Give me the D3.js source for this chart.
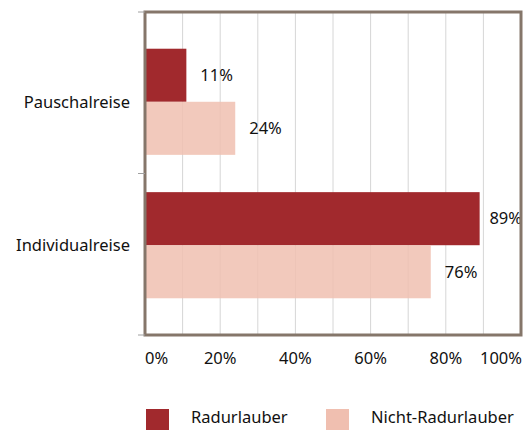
<!DOCTYPE html>
<html>
<head>
<meta charset="utf-8">
<script src="https://cdn.jsdelivr.net/npm/d3@7"></script>
<style>
  body { margin: 0; background: #fff; }
  text { font-family: "Noto Sans", sans-serif; fill: #111; font-size: 16.5px; }
</style>
</head>
<body>
<div id="chart"></div>
<script>
// Daten
var kategorien = ["Pauschalreise", "Individualreise"];
var serien = ["Radurlauber", "Nicht-Radurlauber"];
var radurlauber = [11, 89];
var nichtRadurlauber = [24, 76];
var xTicks = [0, 20, 40, 60, 80, 100];
var farben = ["#a1292d", "#f0bfb0"];

var width = 530, height = 430;
var plotLeft = 145, plotRight = 521, plotTop = 12, plotBottom = 335;

var svg = d3.select("#chart").append("svg")
  .attr("width", width)
  .attr("height", height);

var x = d3.scaleLinear().domain([0, 100]).range([plotLeft, plotRight]);

var y = d3.scaleBand()
  .domain(kategorien)
  .range([plotTop, plotBottom])
  .paddingInner(0.26)
  .paddingOuter(0.256);

var ySub = d3.scaleBand()
  .domain(serien)
  .range([0, y.bandwidth()]);

// Gitterlinien alle 10%
svg.append("g")
  .selectAll("line")
  .data(d3.range(10, 100, 10))
  .enter().append("line")
  .attr("x1", function(d) { return x(d); })
  .attr("x2", function(d) { return x(d); })
  .attr("y1", plotTop)
  .attr("y2", plotBottom)
  .attr("stroke", "#d6d6d6")
  .attr("stroke-width", 1);

var rows = kategorien.map(function(k, i) {
  return [
    { kat: k, serie: serien[0], wert: radurlauber[i] },
    { kat: k, serie: serien[1], wert: nichtRadurlauber[i] }
  ];
});

var g = svg.selectAll(".gruppe")
  .data(rows)
  .enter().append("g")
  .attr("class", "gruppe")
  .attr("transform", function(d) { return "translate(0," + y(d[0].kat) + ")"; });

g.selectAll("rect")
  .data(function(d) { return d; })
  .enter().append("rect")
  .attr("x", x(0))
  .attr("y", function(d) { return ySub(d.serie); })
  .attr("width", function(d) { return x(d.wert) - x(0); })
  .attr("height", ySub.bandwidth())
  .attr("fill", function(d, i) { return farben[i]; })
  .attr("fill-opacity", function(d, i) { return i == 1 ? 0.85 : 1; });

g.selectAll("text")
  .data(function(d) { return d; })
  .enter().append("text")
  .attr("x", function(d) { return x(d.wert) + 14; })
  .attr("y", function(d) { return ySub(d.serie) + ySub.bandwidth() / 2; })
  .attr("dy", ".35em")
  .text(function(d) { return d.wert + "%"; })
  .each(function() {
    var w = this.getComputedTextLength();
    var xx = +d3.select(this).attr("x");
    if (xx + w > plotRight + 1) d3.select(this).attr("x", plotRight + 1 - w);
  });

// Rahmen
var rahmen = "#85766a";
svg.append("rect")
  .attr("x", plotLeft)
  .attr("y", plotTop)
  .attr("width", plotRight - plotLeft)
  .attr("height", plotBottom - plotTop)
  .attr("fill", "none")
  .attr("stroke", rahmen)
  .attr("stroke-width", 3);

// Kategorie-Ticks
var tickY = [plotTop, (y(kategorien[0]) + y.bandwidth() + y(kategorien[1])) / 2, plotBottom];
svg.append("g")
  .selectAll("line")
  .data(tickY)
  .enter().append("line")
  .attr("x1", plotLeft - 7)
  .attr("x2", plotLeft)
  .attr("y1", function(d) { return d; })
  .attr("y2", function(d) { return d; })
  .attr("stroke", "#a0a0a0")
  .attr("stroke-width", 1);

// Kategorie-Beschriftung
svg.append("g")
  .selectAll("text")
  .data(kategorien)
  .enter().append("text")
  .attr("x", 130)
  .attr("y", function(d) { return y(d) + y.bandwidth() / 2; })
  .attr("dy", ".35em")
  .attr("text-anchor", "end")
  .text(function(d) { return d; });

// X-Achse
svg.append("g")
  .selectAll("text")
  .data(xTicks)
  .enter().append("text")
  .attr("x", function(d) { return x(d); })
  .attr("y", 358)
  .attr("dy", ".35em")
  .attr("text-anchor", "middle")
  .text(function(d) { return d + "%"; })
  .each(function(d) {
    var w = this.getComputedTextLength();
    var xx = x(d);
    if (xx - w / 2 < plotLeft) d3.select(this).attr("x", plotLeft + w / 2);
    if (xx + w / 2 > plotRight + 1) d3.select(this).attr("x", plotRight + 1 - w / 2);
  });

// Legende
var legX = [146, 326];
var leg = svg.selectAll(".leg")
  .data(serien)
  .enter().append("g")
  .attr("class", "leg")
  .attr("transform", function(d, i) { return "translate(" + legX[i] + ",409)"; });

leg.append("rect")
  .attr("width", 23)
  .attr("height", 21)
  .attr("fill", function(d, i) { return farben[i]; });

leg.append("text")
  .attr("x", 45)
  .attr("y", 8)
  .attr("dy", ".35em")
  .text(function(d) { return d; });
</script>
</body>
</html>
